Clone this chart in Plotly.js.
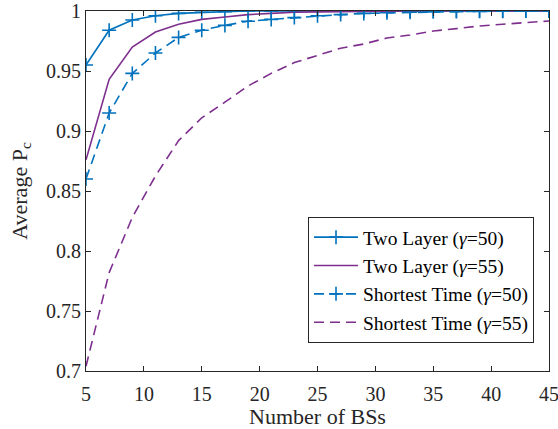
<!DOCTYPE html>
<html>
<head>
<meta charset="utf-8">
<script src="https://cdn.plot.ly/plotly-3.0.1.min.js"></script>
<style>html,body{margin:0;padding:0;background:#fff;}#chart{width:558px;height:429px;}</style>
</head>
<body>
<div id="chart"></div>
<script>
const numBS = [5,7,9,11,13,15,17,19,21,23,25,27,29,31,33,35,37,39,41,43,45];
const twoLayer50 = [0.955,0.984,0.9925,0.996,0.998,0.999,0.9995,1,1,1,1,1,1,1,1,1,1,1,1,1,1];
const twoLayer55 = [0.876,0.943,0.970,0.9825,0.989,0.993,0.995,0.997,0.998,0.999,0.9993,0.9996,0.9998,1,1,1,1,1,1,1,1];
const shortest50 = [0.860,0.915,0.948,0.965,0.978,0.984,0.988,0.9915,0.993,0.9945,0.996,0.997,0.998,0.9985,0.999,0.9993,0.9995,0.9997,0.9998,1,1];
const shortest55 = [0.704,0.782,0.828,0.8625,0.892,0.911,0.924,0.9375,0.948,0.957,0.963,0.969,0.9725,0.9775,0.980,0.9833,0.9853,0.9875,0.989,0.9903,0.9917];
const xTicks = [5,10,15,20,25,30,35,40,45];
const yTicks = [0.7,0.75,0.8,0.85,0.9,0.95,1];
const yTickText = ['0.7','0.75','0.8','0.85','0.9','0.95','1'];

const blue = '#0072BD';
const purple = '#7E2F8E';
const axisCol = '#262626';
const font = '"Liberation Serif", "Times New Roman", serif';

const traces = [
  {x:numBS, y:twoLayer50, name:'Two Layer (<i>γ</i>=50)', mode:'lines+markers',
   line:{color:blue, width:1.6},
   marker:{symbol:'cross-thin', size:10, color:blue, line:{color:blue, width:1.6}}},
  {x:numBS, y:twoLayer55, name:'Two Layer (<i>γ</i>=55)', mode:'lines',
   line:{color:purple, width:1.6}},
  {x:numBS, y:shortest50, name:'Shortest Time (<i>γ</i>=50)', mode:'lines+markers',
   line:{color:blue, width:1.6, dash:'10px,6px'},
   marker:{symbol:'cross-thin', size:10, color:blue, line:{color:blue, width:1.6}}},
  {x:numBS, y:shortest55, name:'Shortest Time (<i>γ</i>=55)', mode:'lines',
   line:{color:purple, width:1.6, dash:'10px,6px'}}
];

const layout = {
  width:558, height:429,
  margin:{l:86, r:9, t:11, b:58},
  paper_bgcolor:'#fff', plot_bgcolor:'#fff',
  font:{family:font, color:axisCol, size:20},
  showlegend:true,
  xaxis:{
    range:[5,45], tickvals:xTicks,
    ticks:'inside', ticklen:5, tickcolor:axisCol, tickwidth:1,
    showline:true, linecolor:axisCol, linewidth:1, mirror:'ticks',
    showgrid:false, zeroline:false, ticklabeloverflow:'allow',
    ticklabelstandoff:5,
    tickfont:{family:font, size:20, color:axisCol},
    title:{text:'Number of BSs', font:{family:font, size:22, color:axisCol}, standoff:11}
  },
  yaxis:{
    range:[0.7,1], tickvals:yTicks, ticktext:yTickText,
    ticks:'inside', ticklen:5, tickcolor:axisCol, tickwidth:1,
    showline:true, linecolor:axisCol, linewidth:1, mirror:'ticks',
    showgrid:false, zeroline:false, ticklabeloverflow:'allow',
    tickfont:{family:font, size:20, color:axisCol},
    title:{text:'Average P<sub>c</sub>', font:{family:font, size:22, color:axisCol}, standoff:12}
  },
  legend:{
    x:0.4795, y:0.4278, xanchor:'left', yanchor:'top',
    bgcolor:'#fff', bordercolor:axisCol, borderwidth:1,
    font:{family:font, size:19.5, color:'#000'},
    itemwidth:44,
    tracegroupgap:0
  }
};

Plotly.newPlot('chart', traces, layout, {staticPlot:true, displayModeBar:false});
</script>
</body>
</html>
